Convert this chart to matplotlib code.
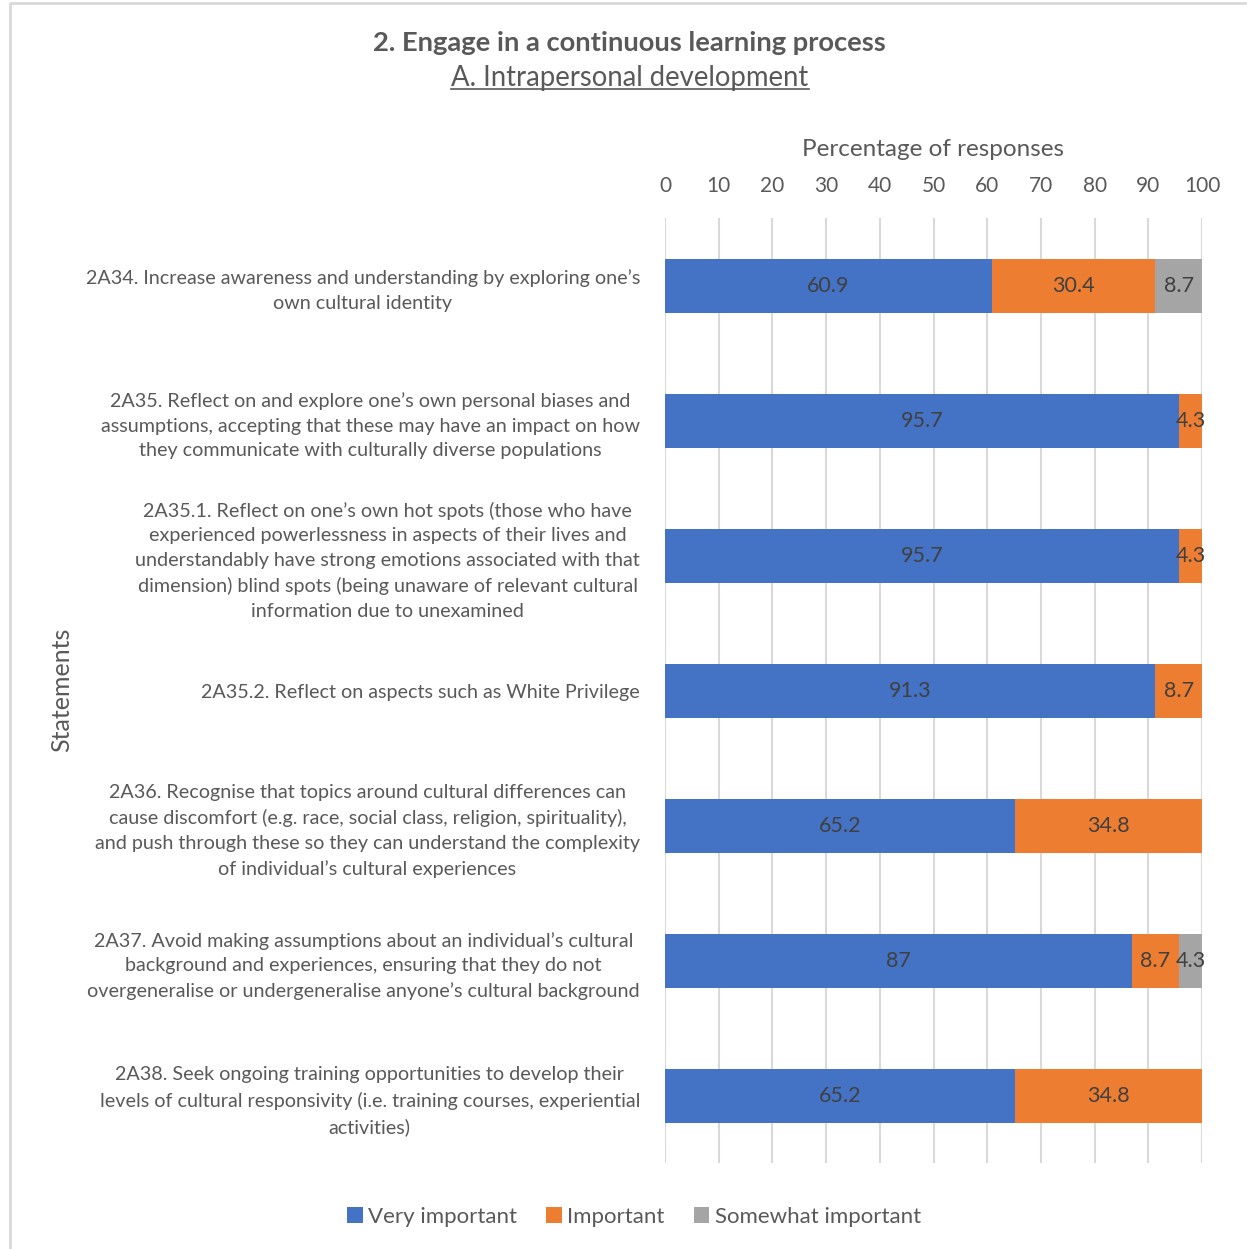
import numpy as np
import matplotlib
matplotlib.use("Agg")
import matplotlib.pyplot as plt
from matplotlib.lines import Line2D

# statements, top to bottom
statements = [
    "2A34. Increase awareness and understanding by exploring one\u2019s\nown cultural identity",
    "2A35. Reflect on and explore one\u2019s own personal biases and\nassumptions, accepting that these may have an impact on how\nthey communicate with culturally diverse populations",
    "2A35.1. Reflect on one\u2019s own hot spots (those who have\nexperienced powerlessness in aspects of their lives and\nunderstandably have strong emotions associated with that\ndimension) blind spots (being unaware of relevant cultural\ninformation due to unexamined",
    "2A35.2. Reflect on aspects such as White Privilege",
    "2A36. Recognise that topics around cultural differences can\ncause discomfort (e.g. race, social class, religion, spirituality),\nand push through these so they can understand the complexity\nof individual\u2019s cultural experiences",
    "2A37. Avoid making assumptions about an individual\u2019s cultural\nbackground and experiences, ensuring that they do not\novergeneralise or undergeneralise anyone\u2019s cultural background",
    "2A38. Seek ongoing training opportunities to develop their\nlevels of cultural responsivity (i.e. training courses, experiential\nactivities)",
]

series_names = ["Very important", "Important", "Somewhat important"]
very_important = [60.9, 95.7, 95.7, 91.3, 65.2, 87, 65.2]
important = [30.4, 4.3, 4.3, 8.7, 34.8, 8.7, 34.8]
somewhat_important = [8.7, 0, 0, 0, 0, 4.3, 0]

colors = ["#4472C4", "#ED7D31", "#A5A5A5"]
txt = "#595959"

plt.rcParams['font.family'] = ['Lato', 'DejaVu Sans']

fig = plt.figure(figsize=(12.47, 12.49), dpi=100)
ax = fig.add_axes([665 / 1247, 1 - 1163 / 1249, 537 / 1247, 945 / 1249])

y = np.arange(len(statements))
left = np.zeros(len(statements))
for vals, name, c in zip([very_important, important, somewhat_important], series_names, colors):
    vals = np.array(vals, dtype=float)
    ax.barh(y, vals, left=left, height=0.4, color=c, label=name, zorder=3)
    for yi, l, v in zip(y, left, vals):
        if v > 0:
            ax.text(l + v / 2, yi, f"{v:g}", ha="center", va="center",
                    fontsize=15.5, color="#404040", zorder=4)
    left += vals

ax.set_xlim(0, 100)
ax.set_ylim(len(statements) - 0.5, -0.5)
ax.set_xticks(np.arange(0, 101, 10))
ax.xaxis.tick_top()
ax.xaxis.set_label_position("top")
ax.tick_params(axis="both", length=0, colors=txt)
ax.tick_params(axis="x", labelsize=15, pad=16)
ax.set_xlabel("Percentage of responses", fontsize=17.5, color=txt, labelpad=14)
ax.grid(axis="x", color="#d9d9d9", linewidth=1.5, zorder=0)
for s in ax.spines.values():
    s.set_visible(False)

ax.set_yticks(y)
ax.set_yticklabels(statements, fontsize=14.2, color=txt, linespacing=1.55)
for lab in ax.get_yticklabels():
    lab.set_multialignment("center")
ax.tick_params(axis="y", pad=18)

fig.text(62 / 1247, 1 - 690 / 1249, "Statements", rotation=90, ha="center",
         va="center", fontsize=18, color=txt)

# titles
fig.text(629 / 1247, 1 - 43 / 1249, "2. Engage in a continuous learning process",
         ha="center", va="center", fontsize=19.7, fontweight="bold", color=txt)
sub = fig.text(630 / 1247, 1 - 78 / 1249, "A. Intrapersonal development",
               ha="center", va="center", fontsize=19.8, color=txt)

fig.legend(loc="center", bbox_to_anchor=(634 / 1247, 1 - 1217 / 1249), ncol=3,
           frameon=False, fontsize=16, handlelength=0.7, handleheight=0.7,
           handletextpad=0.25, columnspacing=1.3, labelcolor=txt)

# outer frame (top and left edges)
fig.add_artist(Line2D([10 / 1247, 10 / 1247, 1245 / 1247],
                      [0, 1 - 3 / 1249, 1 - 3 / 1249],
                      transform=fig.transFigure, color="#d9d9d9", linewidth=2))

# underline the subtitle
fig.canvas.draw()
bb = sub.get_window_extent().transformed(fig.transFigure.inverted())
uy = bb.y0 + 0.002
fig.add_artist(Line2D([bb.x0, bb.x1], [uy, uy], transform=fig.transFigure,
                      color=txt, linewidth=1.2))

fig.savefig("out.png", dpi=100, facecolor="white")
